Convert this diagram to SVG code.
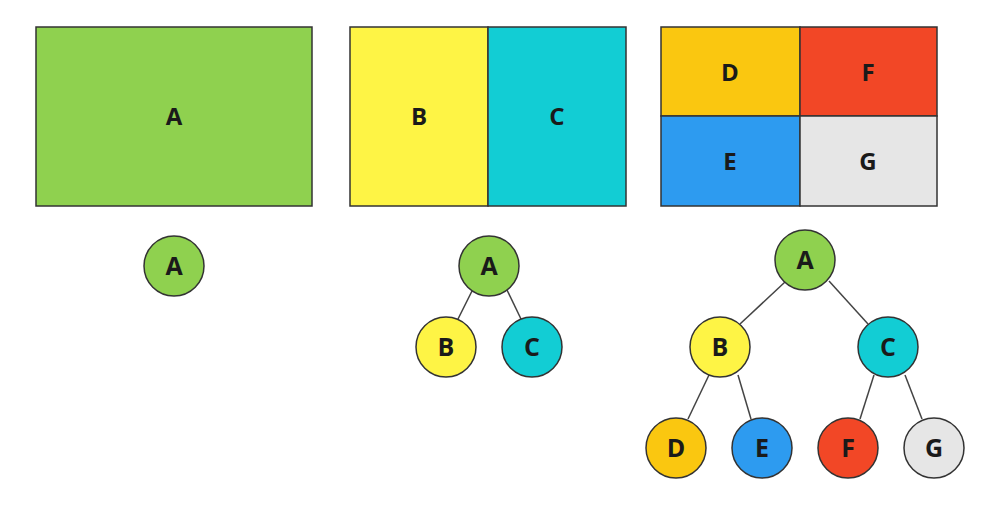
<svg xmlns="http://www.w3.org/2000/svg" width="1000" height="525" viewBox="0 0 1000 525">
<style>
.box{stroke:#333;stroke-width:1.5}
.node{stroke:#333;stroke-width:1.5}
.lbl{font-family:"Open Sans","Liberation Sans",sans-serif;font-weight:bold;font-size:24px;fill:#1a1a1a;text-anchor:middle;dominant-baseline:central}
.nl{font-size:25px}
.edge{stroke:#444;stroke-width:1.5;fill:none}
.g{fill:#8fd14f}.y{fill:#fef445}.c{fill:#12cdd4}.o{fill:#fac710}.r{fill:#f24726}.b{fill:#2d9bf0}.gr{fill:#e6e6e6}
</style>
<rect width="1000" height="525" fill="#fff"/>
<g id="rect-A"><rect class="box g" x="36" y="27" width="276" height="179"/><text class="lbl" x="174" y="115">A</text></g>
<g id="rect-B"><rect class="box y" x="350" y="27" width="138" height="179"/><text class="lbl" x="419" y="115">B</text></g>
<g id="rect-C"><rect class="box c" x="488" y="27" width="138" height="179"/><text class="lbl" x="557" y="115">C</text></g>
<g id="rect-D"><rect class="box o" x="661" y="27" width="139" height="89"/><text class="lbl" x="730" y="71">D</text></g>
<g id="rect-F"><rect class="box r" x="800" y="27" width="137" height="89"/><text class="lbl" x="868" y="71">F</text></g>
<g id="rect-E"><rect class="box b" x="661" y="116" width="139" height="90"/><text class="lbl" x="730" y="160">E</text></g>
<g id="rect-G"><rect class="box gr" x="800" y="116" width="137" height="90"/><text class="lbl" x="868" y="160">G</text></g>
<g id="connectors">
<line class="edge" x1="472" y1="291" x2="458" y2="319"/>
<line class="edge" x1="507" y1="290" x2="521" y2="319"/>
<line class="edge" x1="785" y1="282" x2="740" y2="324"/>
<line class="edge" x1="829" y1="281" x2="868" y2="324"/>
<line class="edge" x1="709" y1="375" x2="688" y2="419"/>
<line class="edge" x1="738" y1="375" x2="751" y2="419"/>
<line class="edge" x1="874" y1="375" x2="860" y2="419"/>
<line class="edge" x1="905" y1="375" x2="922" y2="419"/>
</g>
<g id="t1-A"><circle class="node g" cx="174" cy="266" r="30"/><text class="lbl nl" x="174" y="265">A</text></g>
<g id="t2-A"><circle class="node g" cx="489" cy="266" r="30"/><text class="lbl nl" x="489" y="265">A</text></g>
<g id="t2-B"><circle class="node y" cx="446" cy="347" r="30"/><text class="lbl nl" x="446" y="346">B</text></g>
<g id="t2-C"><circle class="node c" cx="532" cy="347" r="30"/><text class="lbl nl" x="532" y="346">C</text></g>
<g id="t3-A"><circle class="node g" cx="805" cy="260" r="30"/><text class="lbl nl" x="805" y="259">A</text></g>
<g id="t3-B"><circle class="node y" cx="720" cy="347" r="30"/><text class="lbl nl" x="720" y="346">B</text></g>
<g id="t3-C"><circle class="node c" cx="888" cy="347" r="30"/><text class="lbl nl" x="888" y="346">C</text></g>
<g id="t3-D"><circle class="node o" cx="676" cy="448" r="30"/><text class="lbl nl" x="676" y="447">D</text></g>
<g id="t3-E"><circle class="node b" cx="762" cy="448" r="30"/><text class="lbl nl" x="762" y="447">E</text></g>
<g id="t3-F"><circle class="node r" cx="848" cy="448" r="30"/><text class="lbl nl" x="848" y="447">F</text></g>
<g id="t3-G"><circle class="node gr" cx="934" cy="448" r="30"/><text class="lbl nl" x="934" y="447">G</text></g>
</svg>
